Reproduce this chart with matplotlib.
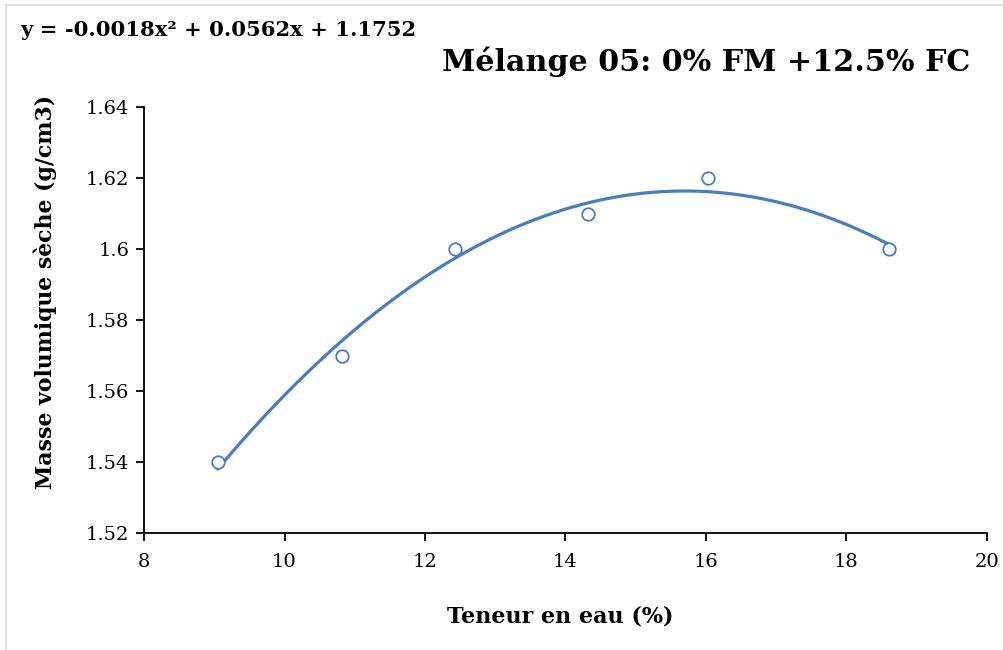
import numpy as np
import matplotlib
matplotlib.use("Agg")
import matplotlib.pyplot as plt
from matplotlib.lines import Line2D

# Data
teneur_eau = [9.05, 10.82, 12.42, 14.32, 16.03, 18.6]
masse_vol = [1.54, 1.57, 1.60, 1.61, 1.62, 1.60]
x_ticks = [8, 10, 12, 14, 16, 18, 20]
y_ticks = [1.52, 1.54, 1.56, 1.58, 1.60, 1.62, 1.64]
y_tick_labels = ["1.52", "1.54", "1.56", "1.58", "1.6", "1.62", "1.64"]
title = "Mélange 05: 0% FM +12.5% FC"
equation = "y = -0.0018x² + 0.0562x + 1.1752"
xlabel = "Teneur en eau (%)"
ylabel = "Masse volumique sèche (g/cm3)"

plt.rcParams['font.family'] = ['DejaVu Serif']
blue = '#4a7ebb'

fig = plt.figure(figsize=(10.04, 6.5), dpi=100)
ax = fig.add_axes([144/1004, 1-533/650, (987-144)/1004, (533-107)/650])

# Polynomial trendline (order 2) fitted on the data
coef = np.polyfit(teneur_eau, masse_vol, 2)
xs = np.linspace(min(teneur_eau), max(teneur_eau), 300)
ax.plot(xs, np.polyval(coef, xs), color=blue, lw=2.3, solid_capstyle='round', zorder=2)
ax.plot(teneur_eau, masse_vol, 'o', mfc='white', mec=blue, mew=1.3, ms=9, zorder=3)

ax.set_xlim(8, 20)
ax.set_ylim(1.52, 1.64)
ax.set_xticks(x_ticks)
ax.set_yticks(y_ticks)
ax.set_yticklabels(y_tick_labels)
for s in ['top', 'right']:
    ax.spines[s].set_visible(False)
for s in ['left', 'bottom']:
    ax.spines[s].set_linewidth(1.3)
    ax.spines[s].set_color('black')
ax.tick_params(axis='both', direction='out', length=5.5, width=1.3, labelsize=14)
ax.tick_params(axis='y', pad=5)
ax.tick_params(axis='x', pad=9)

ax.set_xlabel(xlabel, fontsize=16, fontweight='bold')
ax.xaxis.set_label_coords((560-144)/843, -(617-533)/426)
ax.xaxis.label.set_va('center')
ax.set_ylabel(ylabel, fontsize=15.8, fontweight='bold')
ax.yaxis.set_label_coords((45-144)/843, (533-292)/426)
ax.yaxis.label.set_va('center')

fig.text(20/1004, 1-30/650, equation, fontsize=15.2, fontweight='bold', ha='left', va='center')
fig.text(970/1004, 1-62/650, title, fontsize=21.7, fontweight='bold', ha='right', va='center')

# light chart-area border (left and top)
fig.add_artist(Line2D([6/1004, 6/1004], [0, 1-5/650], transform=fig.transFigure, color='#d9d9d9', lw=1.2))
fig.add_artist(Line2D([6/1004, 1], [1-5/650, 1-5/650], transform=fig.transFigure, color='#d9d9d9', lw=1.2))

fig.savefig('out.png', dpi=100)
